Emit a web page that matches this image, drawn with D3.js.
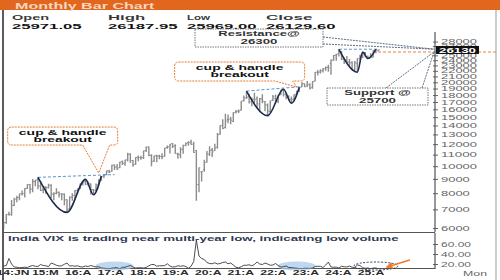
<!DOCTYPE html>
<html>
<head>
<meta charset="utf-8">
<script src="https://cdn.jsdelivr.net/npm/d3@7"></script>
<style>
  html, body { margin: 0; padding: 0; background: #fff; }
  svg { display: block; font-family: "Liberation Sans", Arial, sans-serif; }
</style>
</head>
<body>
<svg width="500" height="280"></svg>
<script>
// monthly bars, Jan 2014 .. Dec 2025
const months = d3.timeMonth.range(new Date(2014, 0, 1), new Date(2026, 0, 1)).map(d3.timeFormat("%Y-%m"));

const opens = [
  6301,6086,6265,6726,6720,7233,7626,7718,7967,7977,8327,8605,
  8272,8806,8953,8483,8229,8417,8376,8550,7908,7992,8054,7954,
  7938,7589,7028,7743,7852,8179,8313,8655,8793,8666,8653,8244,
  8210,8570,8904,9221,9339,9603,9587,10101,9937,9893,10390,10263,
  10532,11044,10479,10151,10783,10738,10732,11359,11751,10930,10441,10930,
  10881,10851,10843,11665,11725,12065,11840,11060,11000,11515,11886,12137,
  12202,12016,11387,8585,9533,9726,10323,11057,11464,11364,11697,13062,
  14019,13758,14702,14798,14481,15629,15755,15874,17185,17531,17783,17104,
  17388,17529,16593,17436,17069,16594,15704,17244,17485,17102,18130,18871,
  18131,17731,17360,17428,18124,18579,19246,19785,19433,19622,19140,20194,
  21728,21781,22048,22455,22637,23337,24010,25030,25333,25788,24304,24140,
  23638,23529,22194,23342,24419,24669,25551,24734,24533,24615,25763,25971
];
const highs = [
  6358,6282,6730,6869,7563,7700,7840,7968,8180,8331,8617,8627,
  8996,8941,9119,8845,8490,8467,8655,8622,8055,8336,8116,7979,
  7973,7600,7778,7992,8213,8308,8674,8819,8968,8806,8669,8274,
  8672,8983,9219,9368,9650,9709,10115,10138,10179,10384,10490,10553,
  11172,11118,10525,10759,10929,10893,11366,11760,11752,11036,10922,10985,
  10987,11118,11630,11856,12041,12103,11981,11181,11695,11945,12158,12293,
  12430,12246,11433,9889,9598,10554,11341,11794,11618,12025,13146,14024,
  14754,15432,15337,15045,15607,15916,15962,17154,17948,18604,18210,17640,
  18351,17794,17559,18115,17133,16794,17172,17992,18097,18022,18816,18888,
  18251,17972,17800,18089,18662,19201,19992,19796,20222,19849,20159,21802,
  22124,22297,22526,22795,23111,24174,25079,25268,26277,25908,24538,24858,
  24226,23807,23870,24365,25116,25669,25669,24957,25448,26104,26246,26188
];
const lows = [
  6027,5933,6212,6650,6638,7200,7422,7540,7841,7724,8290,7961,
  8065,8470,8269,8145,7997,7940,8316,7667,7540,7930,7714,7551,
  7241,6825,6998,7516,7678,7927,8287,8518,8555,8506,7916,7894,
  8133,8537,8860,9075,9269,9448,9544,9686,9688,9831,10094,10034,
  10405,10276,9951,10111,10417,10550,10604,11234,10850,10005,10342,10334,
  10583,10586,10818,11549,11108,11625,11090,10637,10670,11091,11802,11832,
  11929,11175,7511,8055,8806,9544,10299,10882,10790,11347,11557,12963,
  13597,13662,14264,14151,14417,15451,15514,15835,17055,17452,16782,16410,
  16837,16203,15671,16824,15736,15183,15511,17154,16748,16856,17959,17774,
  17405,17255,16828,17313,18042,18464,19234,19224,19256,18838,18974,20184,
  21137,21530,21711,22001,21822,21281,23893,23894,24754,24073,23263,23460,
  22787,22104,21965,21744,23936,24463,24599,24337,24404,24588,25449,25969
];
const closes = [
  6090,6277,6704,6696,7230,7611,7721,7954,7965,8322,8588,8283,
  8809,8902,8491,8182,8434,8368,8533,7971,7949,8066,7935,7946,
  7564,6987,7738,7850,8160,8288,8639,8786,8611,8626,8224,8186,
  8561,8880,9174,9304,9621,9521,10077,9918,9789,10335,10227,10531,
  11028,10493,10114,10739,10736,10714,11357,11681,10930,10387,10877,10863,
  10831,10793,11624,11748,11923,11789,11118,11023,11474,11877,12056,12168,
  11962,11202,8598,9860,9580,10302,11073,11388,11248,11642,12969,13982,
  13635,14529,14691,14631,15583,15722,15763,17132,17618,17672,16983,17354,
  17340,16794,17465,17103,16585,15780,17158,17759,17094,18012,18758,18105,
  17662,17304,17360,18065,18534,19189,19754,19254,19638,19080,20133,21731,
  21726,21983,22327,22605,22531,24011,24951,25236,25811,24205,24131,23645,
  23508,22125,23519,24334,24751,25517,24768,24427,24611,25722,26203,26130
];
const vix = [
  17,16,17,31,20,14,13.5,12.5,13,13.5,13,15.5,
  17,15.5,15,19,17,16.5,14.5,22,20,17.5,16,16.5,
  19.5,22,16,16.5,15.5,16.5,14.5,14,16,15,17,15.5,
  14,14.5,12,11.5,11,11,11.5,12.5,12.5,10.5,13.5,13.5,
  15.5,17,14,12,12.5,12.5,12,13,16.5,19,19,15.5,
  16.5,16.5,17,20.5,16,14,14.5,16.5,15.5,16.5,15,11.5,
  15.5,25,68,36,31,29,23,21,20.5,22.5,20,21,
  23,24,20.5,22,18,13.5,12.5,14.5,17.5,17.5,18.5,16.5,
  19,24,20,19,22,20,17.5,18,21,17,14,14.5,
  16,13,13,12,11.5,11,10.5,11.5,11.5,11,12,15,
  15.5,15.5,13,18,24,14,13.5,13.8,12,15.5,14.5,14,
  16,13.5,13,18,17,12.5,11.5,12,10.5,12,12,10.5
];

// 26000 sits under the last-price tag, so it gets no label
const priceTicks = [6000,7000,8000,9000,10000,11000,12000,13000,14000,15000,16000,17000,
  18000,19000,20000,21000,22000,23000,24000,25000,27000,28000];
const vixTicks = [20, 40, 60];
const xLabels = ["14:JN","15:M","16:A","17:A","18:A","19:A","20:A","21:A","22:A","23:A","24:A","25:A"];
const headerLabels = ["Open", "High", "Low", "Close"];
const headerValues = ["25971.05", "26187.95", "25969.00", "26129.60"];
const lastClose = 26130;
const resistance = 26300;
const support = 25700;

// cup & handle sketches: [month, price]
const cups = [
  [["2015-03", 9119], ["2016-02", 6825], ["2016-09", 8968], ["2016-12", 7894], ["2017-03", 9219]],
  [["2021-10", 18604], ["2022-06", 15183], ["2022-12", 18888], ["2023-03", 16828], ["2023-06", 19201]],
  [["2024-09", 26277], ["2025-04", 21744], ["2025-06", 25669], ["2025-08", 24337], ["2025-11", 26246]]
];
const necklines = [
  [["2015-03", 9119], ["2017-08", 9330]],
  [["2021-10", 18604], ["2023-07", 19300]],
  [["2024-09", 26277], ["2025-12", 26300]]
];
const breakouts = [["2017-02", 9450], ["2023-05", 19240]];
const vixLowZones = ["2017-08", "2023-05"];
const vixNow = ["2025-11", 16];

const svg = d3.select("svg");
const W = 500, H = 280;
const axisX = 435;

function fit(sel, perChar) {
  sel.attr("textLength", function() { return this.textContent.length * perChar; })
     .attr("lengthAdjust", "spacingAndGlyphs");
}

const x = d3.scalePoint().domain(months).range([1, 378.5]);
const y = d3.scaleLog().domain([6000, 28000]).range([228, 41.6]);
const yv = d3.scaleLinear().domain([20, 60]).range([264, 244]);

// title bar
svg.append("rect").attr("x", 0).attr("y", 0).attr("width", W).attr("height", 10).attr("fill", "#e2661e");
svg.append("text").attr("x", 15).attr("y", 8.5).attr("font-size", 8.5).attr("font-weight", "bold")
  .attr("fill", "#f7d6c2").text("Monthly Bar Chart").call(fit, 8.2);

// frame
svg.append("line").attr("x1", 3).attr("x2", 3).attr("y1", 10).attr("y2", H)
  .attr("stroke", "#333").attr("stroke-width", 1.6);
svg.append("line").attr("x1", 496).attr("x2", 496).attr("y1", 10).attr("y2", H)
  .attr("stroke", "#999").attr("stroke-width", 1);

// header
const hx = [12, 108, 187, 266];
headerLabels.forEach((t, i) => {
  svg.append("text").attr("x", hx[i]).attr("y", 19.5).attr("font-size", 7.5).attr("font-weight", "bold")
    .attr("fill", "#3a3a3a").text(t).call(fit, t.length > 3 ? 9.3 : 7.7);
  svg.append("text").attr("x", hx[i]).attr("y", 28.5).attr("font-size", 8).attr("font-weight", "bold")
    .attr("fill", "#111").text(headerValues[i]).call(fit, 8.7);
});

// clip for the price bars
svg.append("clipPath").attr("id", "plot").append("rect")
  .attr("x", 3.8).attr("y", 30).attr("width", axisX - 3.8).attr("height", 202);

const plot = svg.append("g").attr("clip-path", "url(#plot)");

const bars = plot.append("g").attr("stroke", "#8c8c8c");
months.forEach((m, i) => {
  const cx = x(m);
  bars.append("line").attr("x1", cx).attr("x2", cx).attr("y1", y(highs[i])).attr("y2", y(lows[i]))
    .attr("stroke-width", 1.4);
  bars.append("line").attr("x1", cx - 1.3).attr("x2", cx).attr("y1", y(opens[i])).attr("y2", y(opens[i]))
    .attr("stroke-width", 1);
  bars.append("line").attr("x1", cx).attr("x2", cx + 1.3).attr("y1", y(closes[i])).attr("y2", y(closes[i]))
    .attr("stroke-width", 1);
});

// necklines
const line = d3.line().x(d => x(d[0])).y(d => y(d[1]));
necklines.forEach(n => {
  plot.append("path").attr("d", line(n)).attr("fill", "none")
    .attr("stroke", "#4a86c5").attr("stroke-width", 0.9).attr("stroke-dasharray", "3,2");
});

// cup & handle curves
const cupLine = d3.line().x(d => x(d[0])).y(d => y(d[1])).curve(d3.curveMonotoneX);
cups.forEach(c => {
  plot.append("path").attr("d", cupLine(c)).attr("fill", "none")
    .attr("stroke", "#1d2b4c").attr("stroke-width", 1.6);
});

// support line
svg.append("line").attr("x1", 378).attr("x2", 497).attr("y1", y(support)).attr("y2", y(support))
  .attr("stroke", "#e8823e").attr("stroke-width", 1).attr("stroke-dasharray", "3,2");

// price axis
const yAxis = svg.append("g").attr("transform", `translate(${axisX},0)`)
  .call(d3.axisRight(y).tickValues(priceTicks).tickFormat(d3.format("d")).tickSize(3).tickPadding(3));
yAxis.select(".domain").remove();
yAxis.selectAll(".tick line").attr("x1", -2).attr("stroke", "#666");
yAxis.selectAll(".tick text").attr("font-size", 6.5).attr("fill", "#666")
  .attr("font-family", "Liberation Sans, Arial, sans-serif").call(fit, 7.2);
svg.append("line").attr("x1", axisX).attr("x2", axisX).attr("y1", 32).attr("y2", 232)
  .attr("stroke", "#555").attr("stroke-width", 1.2);

// last price tag
svg.append("rect").attr("x", axisX + 1).attr("y", y(lastClose) - 4).attr("width", 43).attr("height", 8).attr("fill", "#111");
svg.append("text").attr("x", axisX + 4).attr("y", y(lastClose) + 3).attr("font-size", 7.5).attr("font-weight", "bold")
  .attr("fill", "#fff").text(lastClose).call(fit, 7.4);

// callouts for the cup & handle breakouts
function callout(tx, ty, x0, y0, x1, y1, wa, wb) {
  const r = 4;
  return `M${x0 + r},${y0} H${x1 - r} Q${x1},${y0} ${x1},${y0 + r} V${y1 - r} Q${x1},${y1} ${x1 - r},${y1} ` +
    `H${wb} L${tx},${ty} L${wa},${y1} H${x0 + r} Q${x0},${y1} ${x0},${y1 - r} V${y0 + r} Q${x0},${y0} ${x0 + r},${y0} Z`;
}
const boxes = [
  { dx0: -91, dx1: 19, dy0: -46, dy1: -28, wa: -16, wb: 11 },
  { dx0: -122, dx1: 8, dy0: -25, dy1: -6, wa: -22, wb: -4 }
];
breakouts.forEach((b, i) => {
  const tx = x(b[0]), ty = y(b[1]), o = boxes[i];
  const x0 = tx + o.dx0, x1 = tx + o.dx1, y0 = ty + o.dy0, y1 = ty + o.dy1;
  svg.append("path").attr("d", callout(tx, ty, x0, y0, x1, y1, tx + o.wa, tx + o.wb))
    .attr("fill", "#fff").attr("fill-opacity", 0.92)
    .attr("stroke", "#e67a35").attr("stroke-width", 1).attr("stroke-dasharray", "2,1");
  const cx = (x0 + x1) / 2;
  svg.append("text").attr("x", cx).attr("y", y0 + 8).attr("text-anchor", "middle")
    .attr("font-size", 7).attr("font-weight", "bold").attr("fill", "#111").text("cup & handle").call(fit, 7.3);
  svg.append("text").attr("x", cx).attr("y", y0 + 15).attr("text-anchor", "middle")
    .attr("font-size", 7).attr("font-weight", "bold").attr("fill", "#111").text("breakout").call(fit, 7.3);
});

// resistance / support notes
const tagX = axisX - 1;
function note(x0, y0, w, h, lines, from) {
  from.forEach(p => {
    svg.append("line").attr("x1", p[0]).attr("y1", p[1]).attr("x2", tagX).attr("y2", p[2])
      .attr("stroke", "#4d5b73").attr("stroke-width", 0.9).attr("stroke-dasharray", "2,1");
  });
  svg.append("rect").attr("x", x0).attr("y", y0).attr("width", w).attr("height", h)
    .attr("fill", "#fff").attr("stroke", "#666").attr("stroke-width", 0.9).attr("stroke-dasharray", "1.5,1");
  lines.forEach((t, k) => {
    svg.append("text").attr("x", x0 + w / 2).attr("y", y0 + 7 + k * 7.5).attr("text-anchor", "middle")
      .attr("font-size", 7).attr("font-weight", "bold").attr("fill", "#333").text(t).call(fit, 7.4);
  });
}
note(195, 29, 128, 18, ["Resistance@", "" + resistance],
  [[323, 37, y(resistance)], [323, 44, y(resistance)]]);
note(327, 88, 101, 17, ["Support @", "" + support],
  [[386, 88, y(support)], [422, 88, y(support)]]);

// VIX panel
svg.append("line").attr("x1", 3).attr("x2", axisX).attr("y1", 232.5).attr("y2", 232.5)
  .attr("stroke", "#555").attr("stroke-width", 1);
svg.append("line").attr("x1", 3).attr("x2", axisX).attr("y1", 268.5).attr("y2", 268.5)
  .attr("stroke", "#555").attr("stroke-width", 1);
svg.append("text").attr("x", 8).attr("y", 240.5).attr("font-size", 7).attr("font-weight", "bold")
  .attr("fill", "#2f3b52").text("India VIX is trading near multi-year low, indicating low volume").call(fit, 6.2);

vixLowZones.forEach(m => {
  svg.append("ellipse").attr("cx", x(m)).attr("cy", 266).attr("rx", 19).attr("ry", 4.5)
    .attr("fill", "#a9c9ea").attr("fill-opacity", 0.75);
});

svg.append("clipPath").attr("id", "vixclip").append("rect")
  .attr("x", 3.8).attr("y", 233).attr("width", axisX - 3.8).attr("height", 35.5);
svg.append("path")
  .attr("d", d3.line().x((d, i) => x(months[i])).y(d => yv(d))(vix))
  .attr("fill", "none").attr("stroke", "#3a3a3a").attr("stroke-width", 0.9)
  .attr("clip-path", "url(#vixclip)");

svg.append("ellipse").attr("cx", x(vixNow[0])).attr("cy", yv(vixNow[1])).attr("rx", 22).attr("ry", 4)
  .attr("fill", "none").attr("stroke", "#1d2b4c").attr("stroke-width", 0.9).attr("stroke-dasharray", "2,1.5");

svg.append("defs").append("marker").attr("id", "arr").attr("viewBox", "0 0 10 10")
  .attr("refX", 8).attr("refY", 5).attr("markerWidth", 5).attr("markerHeight", 5).attr("orient", "auto")
  .append("path").attr("d", "M0,0 L10,5 L0,10 Z").attr("fill", "#ee7a2a");
svg.append("line").attr("x1", x(vixNow[0]) + 34).attr("y1", 260).attr("x2", x(vixNow[0]) + 11).attr("y2", 267)
  .attr("stroke", "#ee7a2a").attr("stroke-width", 1.4).attr("marker-end", "url(#arr)");

const vAxis = svg.append("g").attr("transform", `translate(${axisX},0)`)
  .call(d3.axisRight(yv).tickValues(vixTicks).tickFormat(d3.format(".2f")).tickSize(3).tickPadding(3));
vAxis.select(".domain").remove();
vAxis.selectAll(".tick line").attr("x1", -2).attr("stroke", "#666");
vAxis.selectAll(".tick text").attr("font-size", 7).attr("fill", "#666")
  .attr("font-family", "Liberation Sans, Arial, sans-serif").call(fit, 6);
svg.append("line").attr("x1", axisX).attr("x2", axisX).attr("y1", 233).attr("y2", 269)
  .attr("stroke", "#555").attr("stroke-width", 1.2);

// x labels
const xl = d3.scalePoint().domain(xLabels).range([13, 371]);
xLabels.forEach(t => {
  svg.append("text").attr("x", xl(t)).attr("y", 275).attr("text-anchor", "middle")
    .attr("font-size", 7).attr("font-weight", "bold").attr("fill", "#2a2a2a").text(t).call(fit, 6.6);
});
svg.append("text").attr("x", 463).attr("y", 275.5).attr("font-size", 7).attr("fill", "#666")
  .text("Mon").call(fit, 8);
</script>
</body>
</html>
